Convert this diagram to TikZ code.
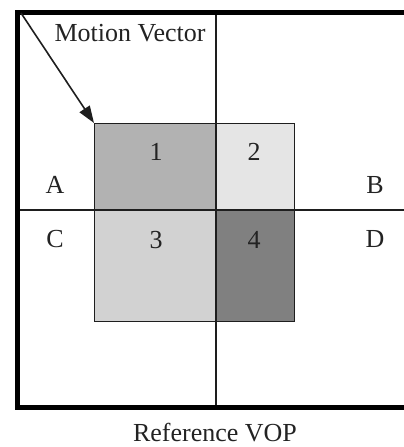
\documentclass[tikz,border=0pt]{standalone}
\usepackage{fontspec}
\setmainfont{Liberation Serif}
\usetikzlibrary{arrows.meta}
\definecolor{txt}{RGB}{35,35,35}
\definecolor{lne}{RGB}{30,30,30}
\tikzset{
  lbl/.style={font=\fontsize{26}{29}\selectfont, text=txt, inner sep=0pt},
  cell/.style={draw=lne, line width=1.3pt, inner sep=0pt, anchor=north west},
  thin/.style={draw=lne, line width=1.5pt},
  frame/.style={draw=black, line width=5pt},
}
\begin{document}
\begin{tikzpicture}[x=1pt,y=-1pt]
\useasboundingbox (0,0) rectangle (404,447);
% cells of the block
\node[cell, fill={rgb,255:red,178;green,178;blue,178}, minimum width=122pt, minimum height=87pt] (c1) at (94,123) {};
\node[cell, fill={rgb,255:red,229;green,229;blue,229}, minimum width=78pt, minimum height=87pt] (c2) at (216,123) {};
\node[cell, fill={rgb,255:red,210;green,210;blue,210}, minimum width=122pt, minimum height=111pt] (c3) at (94,210) {};
\node[cell, fill={rgb,255:red,128;green,128;blue,128}, minimum width=78pt, minimum height=111pt] (c4) at (216,210) {};
% grid lines
\coordinate (vt) at (216,12);
\coordinate (vb) at (216,407);
\coordinate (hl) at (17,210);
\coordinate (hr) at (404,210);
\draw[thin] (vt) -- (vb);
\draw[thin] (hl) -- (hr);
% frame
\coordinate (ftr) at (404,12);
\coordinate (ftl) at (17,12);
\coordinate (fbl) at (17,407);
\coordinate (fbr) at (404,407);
\draw[frame, line cap=butt, line join=miter] (ftr) -- (ftl) -- (fbl) -- (fbr);
% motion vector arrow
\coordinate (mvs) at (21,13);
\draw[thin, line width=1.6pt, -{Triangle[length=17pt,width=12pt]}] (mvs) -- (c1.north west);
% labels
\node[lbl] (mv) at (130,33) {Motion Vector};
\node[lbl] (la) at (55,185) {A};
\node[lbl] (lb) at (375,185) {B};
\node[lbl] (lc) at (55,239) {C};
\node[lbl] (ld) at (375,239) {D};
\node[lbl] (n1) at (156,152) {1};
\node[lbl] (n2) at (254,152) {2};
\node[lbl] (n3) at (156,240) {3};
\node[lbl] (n4) at (254,240) {4};
\node[lbl] (ref) at (215,433) {Reference VOP};
\end{tikzpicture}
\end{document}
